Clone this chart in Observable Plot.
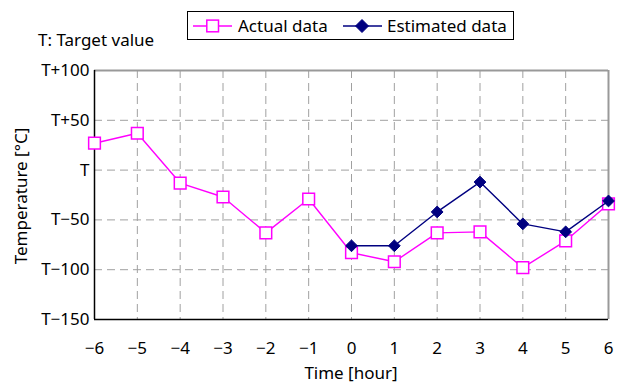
<!DOCTYPE html>
<html>
<head>
<meta charset="utf-8">
<script src="https://cdn.jsdelivr.net/npm/d3@7"></script>
<script src="https://cdn.jsdelivr.net/npm/@observablehq/plot@0.6"></script>
<style>
  html, body { margin: 0; padding: 0; background: #fff; }
  #chart { position: relative; width: 622px; height: 385px; font-family: "Noto Sans", sans-serif; }
  #chart > svg { position: absolute; left: 0; top: 0; }
</style>
</head>
<body>
<div id="chart"></div>
<script>
// ---- data ----
const xTicks = [-6, -5, -4, -3, -2, -1, 0, 1, 2, 3, 4, 5, 6];
const yTicks = [-150, -100, -50, 0, 50, 100];
const yTickLabels = ["T\u2212150", "T\u2212100", "T\u221250", "T", "T+50", "T+100"];
const actualHours = [-6, -5, -4, -3, -2, -1, 0, 1, 2, 3, 4, 5, 6];
const actualValues = [27, 37, -13, -27, -63, -29, -83, -92, -63, -62, -98, -71, -34];
const estimatedHours = [0, 1, 2, 3, 4, 5, 6];
const estimatedValues = [-76, -76, -42, -12, -54, -62, -31];
const seriesNames = ["Actual data", "Estimated data"];
const xTitle = "Time [hour]";
const yTitle = "Temperature [\u00B0C]";
const note = "T: Target value";

const actual = actualHours.map((h, i) => ({hour: h, value: actualValues[i]}));
const estimated = estimatedHours.map((h, i) => ({hour: h, value: estimatedValues[i]}));
const xDomain = [xTicks[0], xTicks[xTicks.length - 1]];
const yDomain = [yTicks[0], yTicks[yTicks.length - 1]];

const W = 622, H = 385;
const FS = 17;
const magenta = "#ff00ff", navy = "#000080";

const plot = Plot.plot({
  width: W,
  height: H,
  marginTop: 70,
  marginLeft: 94,
  marginRight: 14,
  marginBottom: 66,
  style: {fontFamily: "'Noto Sans', sans-serif", fontSize: FS + "px", color: "#000", background: "transparent"},
  x: {domain: xDomain},
  y: {domain: yDomain},
  marks: [
    Plot.ruleX(xTicks, {stroke: "#a0a0a0", strokeWidth: 1, strokeDasharray: "8,5", strokeOpacity: 1}),
    Plot.ruleY(yTicks, {stroke: "#a0a0a0", strokeWidth: 1, strokeDasharray: "8,5", strokeOpacity: 1}),
    Plot.ruleY([yDomain[1]], {stroke: "#999", strokeWidth: 2}),
    Plot.ruleX([xDomain[1]], {stroke: "#999", strokeWidth: 2}),
    Plot.ruleX([xDomain[0]], {stroke: "#000", strokeWidth: 1.5}),
    Plot.ruleY([yDomain[0]], {stroke: "#000", strokeWidth: 1.5}),
    Plot.axisX({ticks: xTicks, tickSize: 0, tickPadding: 22, label: null, fontSize: FS}),
    Plot.axisY({ticks: yTicks, tickSize: 0, tickPadding: 5, label: null, fontSize: FS,
      tickFormat: d => yTickLabels[yTicks.indexOf(d)]}),
    Plot.line(actual, {x: "hour", y: "value", stroke: magenta, strokeWidth: 1.4}),
    Plot.dot(actual, {x: "hour", y: "value", symbol: "square", r: 6.6, stroke: magenta, strokeWidth: 1.5, fill: "#fff"}),
    Plot.line(estimated, {x: "hour", y: "value", stroke: navy, strokeWidth: 1.4}),
    Plot.dot(estimated, {x: "hour", y: "value", symbol: "diamond2", r: 5.3, stroke: navy, strokeWidth: 1, fill: navy})
  ]
});
document.getElementById("chart").appendChild(plot);

// ---- overlay: legend, note, titles ----
const ov = d3.select("#chart").append("svg")
  .attr("width", W).attr("height", H)
  .style("pointer-events", "none")
  .style("font-family", "'Noto Sans', sans-serif")
  .style("font-size", FS + "px");

ov.append("text").attr("x", 38).attr("y", 46).attr("fill", "#000").text(note);

const lg = ov.append("g");
lg.append("rect").attr("x", 187.5).attr("y", 11.5).attr("width", 326).attr("height", 28)
  .attr("fill", "#fff").attr("stroke", "#000").attr("stroke-width", 1);
// Actual
lg.append("line").attr("x1", 193).attr("x2", 232).attr("y1", 26).attr("y2", 26)
  .attr("stroke", magenta).attr("stroke-width", 1.4);
lg.append("rect").attr("x", 206.8).attr("y", 20.1).attr("width", 11.7).attr("height", 11.7)
  .attr("fill", "#fff").attr("stroke", magenta).attr("stroke-width", 1.5);
lg.append("text").attr("x", 238).attr("y", 32).attr("fill", "#000").text(seriesNames[0]);
// Estimated
lg.append("line").attr("x1", 343).attr("x2", 382).attr("y1", 26).attr("y2", 26)
  .attr("stroke", navy).attr("stroke-width", 1.4);
lg.append("path").attr("d", "M362,19.5L368.5,26L362,32.5L355.5,26Z")
  .attr("fill", navy).attr("stroke", navy).attr("stroke-width", 1);
lg.append("text").attr("x", 387).attr("y", 32).attr("fill", "#000").text(seriesNames[1]);

// axis titles
ov.append("text").attr("x", 351).attr("y", 379).attr("text-anchor", "middle").attr("fill", "#000").text(xTitle);
ov.append("text").attr("transform", "translate(27,196) rotate(-90)").attr("text-anchor", "middle").attr("fill", "#000").text(yTitle);
</script>
</body>
</html>
